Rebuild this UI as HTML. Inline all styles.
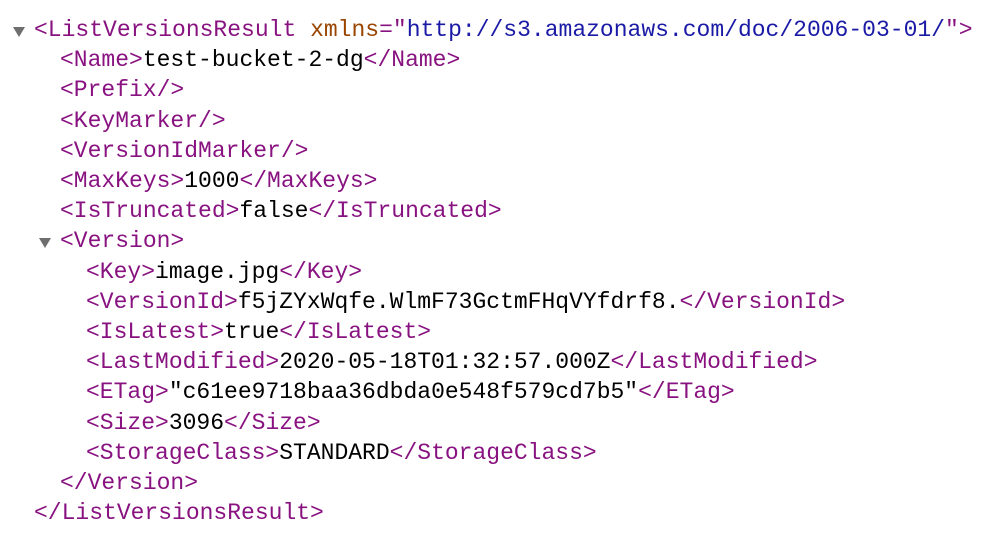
<!DOCTYPE html>
<html><head><style>
body{margin:0;background:#fff;width:1000px;height:560px;overflow:hidden;position:relative;font-family:"Liberation Mono",monospace;font-size:23px;}
.l{position:absolute;white-space:pre;line-height:30px;height:30px;}
.t{color:#881280}.a{color:#994500}.v{color:#1a1aa6}.x{color:#000}
.tri{position:absolute;width:0;height:0;border-left:6px solid transparent;border-right:6px solid transparent;border-top:10px solid #6e6e6e;}
</style></head><body>
<div class="tri" style="left:13px;top:27px"></div>
<div class="tri" style="left:39px;top:238px"></div>
<div class="l" style="left:34px;top:15px"><span class="t">&lt;ListVersionsResult</span> <span class="a">xmlns</span><span class="t">="</span><span class="v">http://s3.amazonaws.com/doc/2006-03-01/</span><span class="t">"&gt;</span></div>
<div class="l" style="left:60px;top:45px"><span class="t">&lt;Name&gt;</span>test-bucket-2-dg<span class="t">&lt;/Name&gt;</span></div>
<div class="l" style="left:60px;top:75px"><span class="t">&lt;Prefix/&gt;</span></div>
<div class="l" style="left:60px;top:106px"><span class="t">&lt;KeyMarker/&gt;</span></div>
<div class="l" style="left:60px;top:136px"><span class="t">&lt;VersionIdMarker/&gt;</span></div>
<div class="l" style="left:60px;top:166px"><span class="t">&lt;MaxKeys&gt;</span>1000<span class="t">&lt;/MaxKeys&gt;</span></div>
<div class="l" style="left:60px;top:196px"><span class="t">&lt;IsTruncated&gt;</span>false<span class="t">&lt;/IsTruncated&gt;</span></div>
<div class="l" style="left:60px;top:226px"><span class="t">&lt;Version&gt;</span></div>
<div class="l" style="left:86px;top:257px"><span class="t">&lt;Key&gt;</span>image.jpg<span class="t">&lt;/Key&gt;</span></div>
<div class="l" style="left:86px;top:287px"><span class="t">&lt;VersionId&gt;</span>f5jZYxWqfe.WlmF73GctmFHqVYfdrf8.<span class="t">&lt;/VersionId&gt;</span></div>
<div class="l" style="left:86px;top:317px"><span class="t">&lt;IsLatest&gt;</span>true<span class="t">&lt;/IsLatest&gt;</span></div>
<div class="l" style="left:86px;top:347px"><span class="t">&lt;LastModified&gt;</span>2020-05-18T01:32:57.000Z<span class="t">&lt;/LastModified&gt;</span></div>
<div class="l" style="left:86px;top:377px"><span class="t">&lt;ETag&gt;</span>"c61ee9718baa36dbda0e548f579cd7b5"<span class="t">&lt;/ETag&gt;</span></div>
<div class="l" style="left:86px;top:408px"><span class="t">&lt;Size&gt;</span>3096<span class="t">&lt;/Size&gt;</span></div>
<div class="l" style="left:86px;top:438px"><span class="t">&lt;StorageClass&gt;</span>STANDARD<span class="t">&lt;/StorageClass&gt;</span></div>
<div class="l" style="left:60px;top:468px"><span class="t">&lt;/Version&gt;</span></div>
<div class="l" style="left:34px;top:498px"><span class="t">&lt;/ListVersionsResult&gt;</span></div>
</body></html>
